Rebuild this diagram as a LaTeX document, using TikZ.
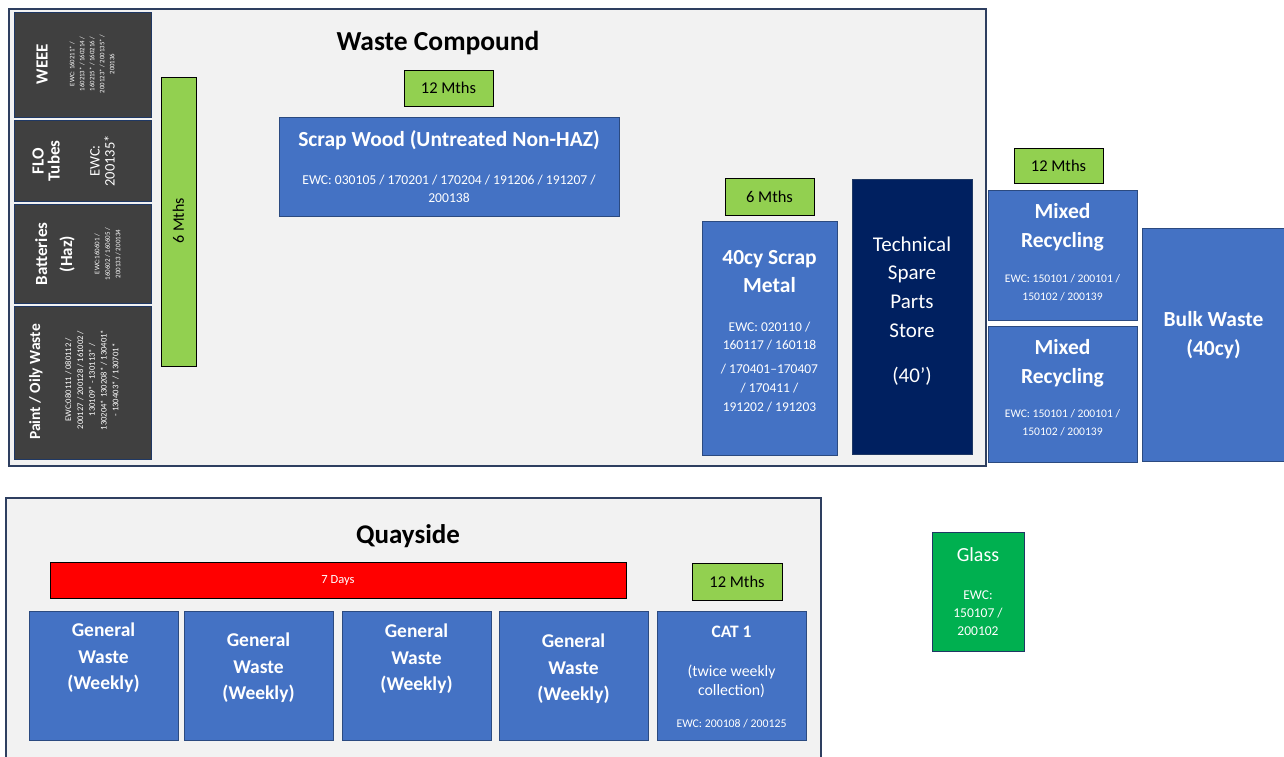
\documentclass[tikz,border=0pt]{standalone}
\usepackage{fontspec}
\setmainfont{Carlito}
\definecolor{areafill}{HTML}{F2F2F2}
\definecolor{arealine}{HTML}{2E3F60}
\definecolor{boxblue}{HTML}{4472C4}
\definecolor{boxline}{HTML}{2B4A80}
\definecolor{darkfill}{HTML}{404040}
\definecolor{darkline}{HTML}{1F3864}
\definecolor{navyfill}{HTML}{002060}
\definecolor{taggreen}{HTML}{92D050}
\definecolor{glassgreen}{HTML}{00B050}
\newcommand\fsz[2]{\fontsize{#1}{#2}\selectfont}
\newcommand\bx[6]{\node[#2, anchor=north west, inner sep=0pt, minimum width={(#5-#3)*1pt}, minimum height={(#6-#4)*1pt}] (#1) at (#3,#4) {};}
\tikzset{
  area/.style={fill=areafill, draw=arealine, line width=1.5pt},
  bluebox/.style={fill=boxblue, draw=boxline, line width=1.3pt},
  darkbox/.style={fill=darkfill, draw=darkline, line width=1.3pt},
  navybox/.style={fill=navyfill, draw=darkline, line width=1pt},
  greentag/.style={fill=taggreen, draw=black, line width=1.3pt},
  redtag/.style={fill=red, draw=black, line width=1.3pt},
  glassbox/.style={fill=glassgreen, draw=darkline, line width=1.3pt},
  wt/.style={text=white, inner sep=0pt, align=center},
  bt/.style={text=black, inner sep=0pt, align=center},
}
\begin{document}
\begin{tikzpicture}[x=1pt,y=-1pt]
\useasboundingbox (0,0) rectangle (1284,756);
\fill[white] (0,0) rectangle (1284,756);

% ---- Waste Compound area
\bx{wc}{area}{8}{8}{985}{465}
\node[bt, font=\fsz{27.5}{30}\bfseries] (wct) at (438,43) {Waste Compound};

% left dark boxes
\bx{weee}{darkbox}{14}{12}{151}{117}
\bx{flo}{darkbox}{14}{120}{151}{201}
\bx{batt}{darkbox}{14}{204}{151}{303}
\bx{paint}{darkbox}{14}{306}{151}{459}

\node[wt, rotate=90, font=\fsz{17}{20}\bfseries] (weeet) at (42,64) {WEEE};
\node[wt, rotate=90, font=\fsz{6.8}{10}] (weeee) at (92,64) {EWC: 160211* /\\160213* / 160214 /\\160215* / 160216 /\\200123* / 200135* /\\200136};

\node[wt, rotate=90, font=\fsz{17}{16}\bfseries] (flot) at (46,161) {FLO\\Tubes};
\node[wt, rotate=90, font=\fsz{14.5}{15}] (floe) at (102.5,161) {EWC:\\200135*};

\node[wt, rotate=90, font=\fsz{17}{25}\bfseries] (battt) at (55,254) {Batteries\\(Haz)};
\node[wt, rotate=90, font=\fsz{7}{10.5}] (batte) at (107.5,254) {EWC:160601 /\\160602 / 160605 /\\200133 / 200134};

\node[wt, rotate=90, font=\fsz{15.5}{18}\bfseries] (paintt) at (36,382) {Paint / Oily Waste};
\node[wt, rotate=90, font=\fsz{8.6}{11.8}] (painte) at (92,380) {EWC:080111 / 080112 /\\200127 / 200128 / 161002 /\\130109* - 130113* /\\130204*~130208* / 130401*\\- 130403* / 130701*};

% 6 months vertical bar
\bx{sixbar}{greentag}{161}{77}{196}{366}
\node[bt, rotate=90, font=\fsz{16}{18}] (sixbart) at (178.5,221) {6 Mths};

% scrap wood
\bx{tagwood}{greentag}{404}{70}{493}{106}
\node[bt, font=\fsz{16.5}{18}] (tagwoodt) at (448.5,88) {12 Mths};
\bx{wood}{bluebox}{279}{117}{619}{216}
\node[wt, font=\fsz{21.5}{24}\bfseries] (woodt) at (449,140) {Scrap Wood (Untreated Non-HAZ)};
\node[wt, font=\fsz{13.6}{18}] (woode) at (449,189) {EWC: 030105 / 170201 / 170204 / 191206 / 191207 /\\200138};

% scrap metal
\bx{tagmetal}{greentag}{725}{178}{814}{215}
\node[bt, font=\fsz{16.5}{18}] (tagmetalt) at (769.5,197) {6 Mths};
\bx{metal}{bluebox}{702}{221}{837}{455}
\node[wt, font=\fsz{21.5}{28}\bfseries] (metalt) at (769.5,272) {40cy Scrap\\Metal};
\node[wt, font=\fsz{13.5}{18}] (metale1) at (769.5,336) {EWC: 020110 /\\160117 / 160118};
\node[wt, font=\fsz{13.5}{19}] (metale2) at (769.5,388) {/ 170401{\char"2013}170407\\/ 170411 /\\191202 / 191203};

% technical store
\bx{tech}{navybox}{852}{179}{972}{454}
\node[wt, font=\fsz{21}{28.7}] (techt) at (912,287) {Technical\\Spare\\Parts\\Store};
\node[wt, font=\fsz{21}{24}] (techs) at (912,376) {(40’)};

% mixed recycling
\bx{tagmix}{greentag}{1014}{148}{1103}{183}
\node[bt, font=\fsz{16.5}{18}] (tagmixt) at (1058.5,166) {12 Mths};
\bx{mix1}{bluebox}{988}{190}{1137}{320}
\node[wt, font=\fsz{21.5}{29}\bfseries] (mix1t) at (1062.5,227.5) {Mixed\\Recycling};
\node[wt, font=\fsz{11.6}{18}] (mix1e) at (1062.5,288) {EWC: 150101 / 200101 /\\150102 / 200139};
\bx{mix2}{bluebox}{988}{326}{1137}{462}
\node[wt, font=\fsz{21.5}{29}\bfseries] (mix2t) at (1062.5,363.5) {Mixed\\Recycling};
\node[wt, font=\fsz{11.6}{18}] (mix2e) at (1062.5,423) {EWC: 150101 / 200101 /\\150102 / 200139};

% bulk waste
\bx{bulk}{bluebox}{1142}{228}{1290}{461}
\node[wt, font=\fsz{21.5}{29}\bfseries] (bulkt) at (1213.5,335.5) {Bulk Waste\\(40cy)};

% ---- Quayside area
\bx{quay}{area}{5}{497}{820}{762}
\node[bt, font=\fsz{27}{30}\bfseries] (quayt) at (408,536) {Quayside};
\bx{days}{redtag}{50}{562}{626}{598}
\node[wt, font=\fsz{12.5}{14}] (dayst) at (338,580) {7 Days};

\bx{gw1}{bluebox}{29}{611}{178}{740}
\node[wt, font=\fsz{19.5}{26.5}\bfseries] (gw1t) at (103.5,658) {General\\Waste\\(Weekly)};
\bx{gw2}{bluebox}{184}{611}{333}{740}
\node[wt, font=\fsz{19.5}{26.5}\bfseries] (gw2t) at (258.5,668) {General\\Waste\\(Weekly)};
\bx{gw3}{bluebox}{342}{611}{491}{740}
\node[wt, font=\fsz{19.5}{26.5}\bfseries] (gw3t) at (416.5,659) {General\\Waste\\(Weekly)};
\bx{gw4}{bluebox}{499}{611}{648}{740}
\node[wt, font=\fsz{19.5}{26.5}\bfseries] (gw4t) at (573.5,669) {General\\Waste\\(Weekly)};

\bx{tagcat}{greentag}{692}{563}{782}{600}
\node[bt, font=\fsz{16.5}{18}] (tagcatt) at (737,582) {12 Mths};
\bx{cat}{bluebox}{657}{611}{806}{740}
\node[wt, font=\fsz{17.5}{20}\bfseries] (catt) at (731.5,632) {CAT 1};
\node[wt, font=\fsz{15.8}{19}] (cats) at (731.5,681.5) {(twice weekly\\collection)};
\node[wt, font=\fsz{11.8}{14}] (cate) at (731.5,724) {EWC: 200108 / 200125};

% glass
\bx{glass}{glassbox}{932}{532}{1024}{651}
\node[wt, font=\fsz{20}{22}] (glasst) at (978,555) {Glass};
\node[wt, font=\fsz{13.5}{18}] (glasse) at (978,613) {EWC:\\150107 /\\200102};
\end{tikzpicture}
\end{document}
